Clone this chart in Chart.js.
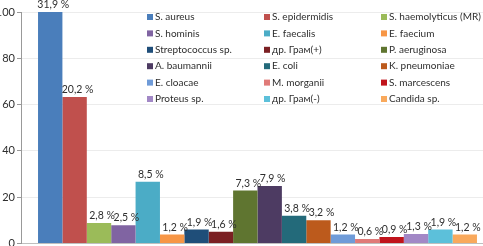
<!DOCTYPE html>
<html>
<head>
<meta charset="utf-8">
<script src="https://cdn.jsdelivr.net/npm/chart.js@4.4.1/dist/chart.umd.min.js"></script>
<style>
  html, body { margin: 0; padding: 0; background: #fff; overflow: hidden; }
  #wrap { width: 483px; height: 246px; overflow: hidden; position: relative; }
  #inner { width: 494px; height: 252px; position: relative; }
</style>
</head>
<body>
<div id="wrap"><div id="inner"><canvas id="chart"></canvas></div></div>
<script>
// organisms (legend order)
const organisms = [
  'S. aureus', 'S. epidermidis', 'S. haemolyticus (MR)',
  'S. hominis', 'E. faecalis', 'E. faecium',
  'Streptococcus sp.', 'др. Грам(+)', 'P. aeruginosa',
  'A. baumannii', 'E. coli', 'K. pneumoniae',
  'E. cloacae', 'M. morganii', 'S. marcescens',
  'Proteus sp.', 'др. Грам(-)', 'Candida sp.'
];
// bar heights on the 0-100 axis
const heights = [100, 63.3, 8.8, 7.8, 26.6, 3.8, 6.0, 5.0, 22.9, 24.8, 11.9, 10.0, 3.8, 1.9, 2.8, 4.1, 6.0, 3.8];
// printed share labels
const shareLabels = ['31,9 %', '20,2 %', '2,8 %', '2,5 %', '8,5 %', '1,2 %', '1,9 %', '1,6 %', '7,3 %',
  '7,9 %', '3,8 %', '3,2 %', '1,2 %', '0,6 %', '0,9 %', '1,3 %', '1,9 %', '1,2 %'];
const colors = [
  '#4a7ebb', '#c0504d', '#9bbb59', '#8064a2', '#4bacc6', '#f79646',
  '#1f4e79', '#7b2023', '#5f7530', '#4d3b62', '#236a7a', '#bc5a1c',
  '#6f9bd8', '#e07a78', '#c0141c', '#a288c6', '#5cc0da', '#f9a95c'
];
const yTicks = [0, 20, 40, 60, 80, 100];

const FONT = 'Lato, "Open Sans", sans-serif';
const TEXT = '#2e2e2e';

const datasets = organisms.map((name, i) => ({
  label: name,
  data: [heights[i]],
  backgroundColor: colors[i],
  borderWidth: 0,
  barPercentage: 1,
  categoryPercentage: 0.928
}));

// value labels above bars
const valueLabels = {
  id: 'valueLabels',
  afterDatasetsDraw(chart) {
    const ctx = chart.ctx;
    ctx.save();
    ctx.font = '10.5px ' + FONT;
    ctx.fillStyle = TEXT;
    ctx.textAlign = 'center';
    ctx.textBaseline = 'bottom';
    chart.data.datasets.forEach((ds, i) => {
      const bar = chart.getDatasetMeta(i).data[0];
      ctx.fillText(shareLabels[i], bar.x + 3, bar.y - 2);
    });
    ctx.restore();
  }
};

// legend laid out in 3 columns inside the plot
const gridLegend = {
  id: 'gridLegend',
  afterDraw(chart) {
    const ctx = chart.ctx;
    const colX = [147, 264, 381];
    const rowY0 = 17, rowH = 16.4;
    ctx.save();
    ctx.font = '10px ' + FONT;
    ctx.textBaseline = 'middle';
    ctx.textAlign = 'left';
    chart.data.datasets.forEach((ds, i) => {
      const col = i % 3, row = Math.floor(i / 3);
      const x = colX[col], y = rowY0 + row * rowH;
      ctx.fillStyle = ds.backgroundColor;
      ctx.fillRect(x, y - 3, 6, 6);
      ctx.fillStyle = TEXT;
      ctx.fillText(ds.label, x + 8, y);
    });
    ctx.restore();
  }
};

new Chart(document.getElementById('chart'), {
  type: 'bar',
  data: { labels: [''], datasets: datasets },
  options: {
    responsive: true,
    maintainAspectRatio: false,
    animation: false,
    layout: { padding: { top: 12, right: 0, bottom: 0, left: 0 } },
    plugins: {
      legend: { display: false },
      tooltip: { enabled: false }
    },
    scales: {
      x: {
        grid: { display: false, drawTicks: false },
        border: { color: '#bfbfbf' },
        ticks: { display: false },
        afterFit(axis) { axis.height = 0; }
      },
      y: {
        min: 0,
        max: 100,
        afterBuildTicks(axis) { axis.ticks = yTicks.map(v => ({ value: v })); },
        afterFit(axis) { axis.width = 21; },
        grid: { color: '#ececec', tickLength: 4, tickColor: '#999' },
        border: { color: '#999' },
        ticks: { font: { size: 11, family: FONT }, color: TEXT, padding: 2 }
      }
    }
  },
  plugins: [valueLabels, gridLegend]
});
</script>
</body>
</html>
